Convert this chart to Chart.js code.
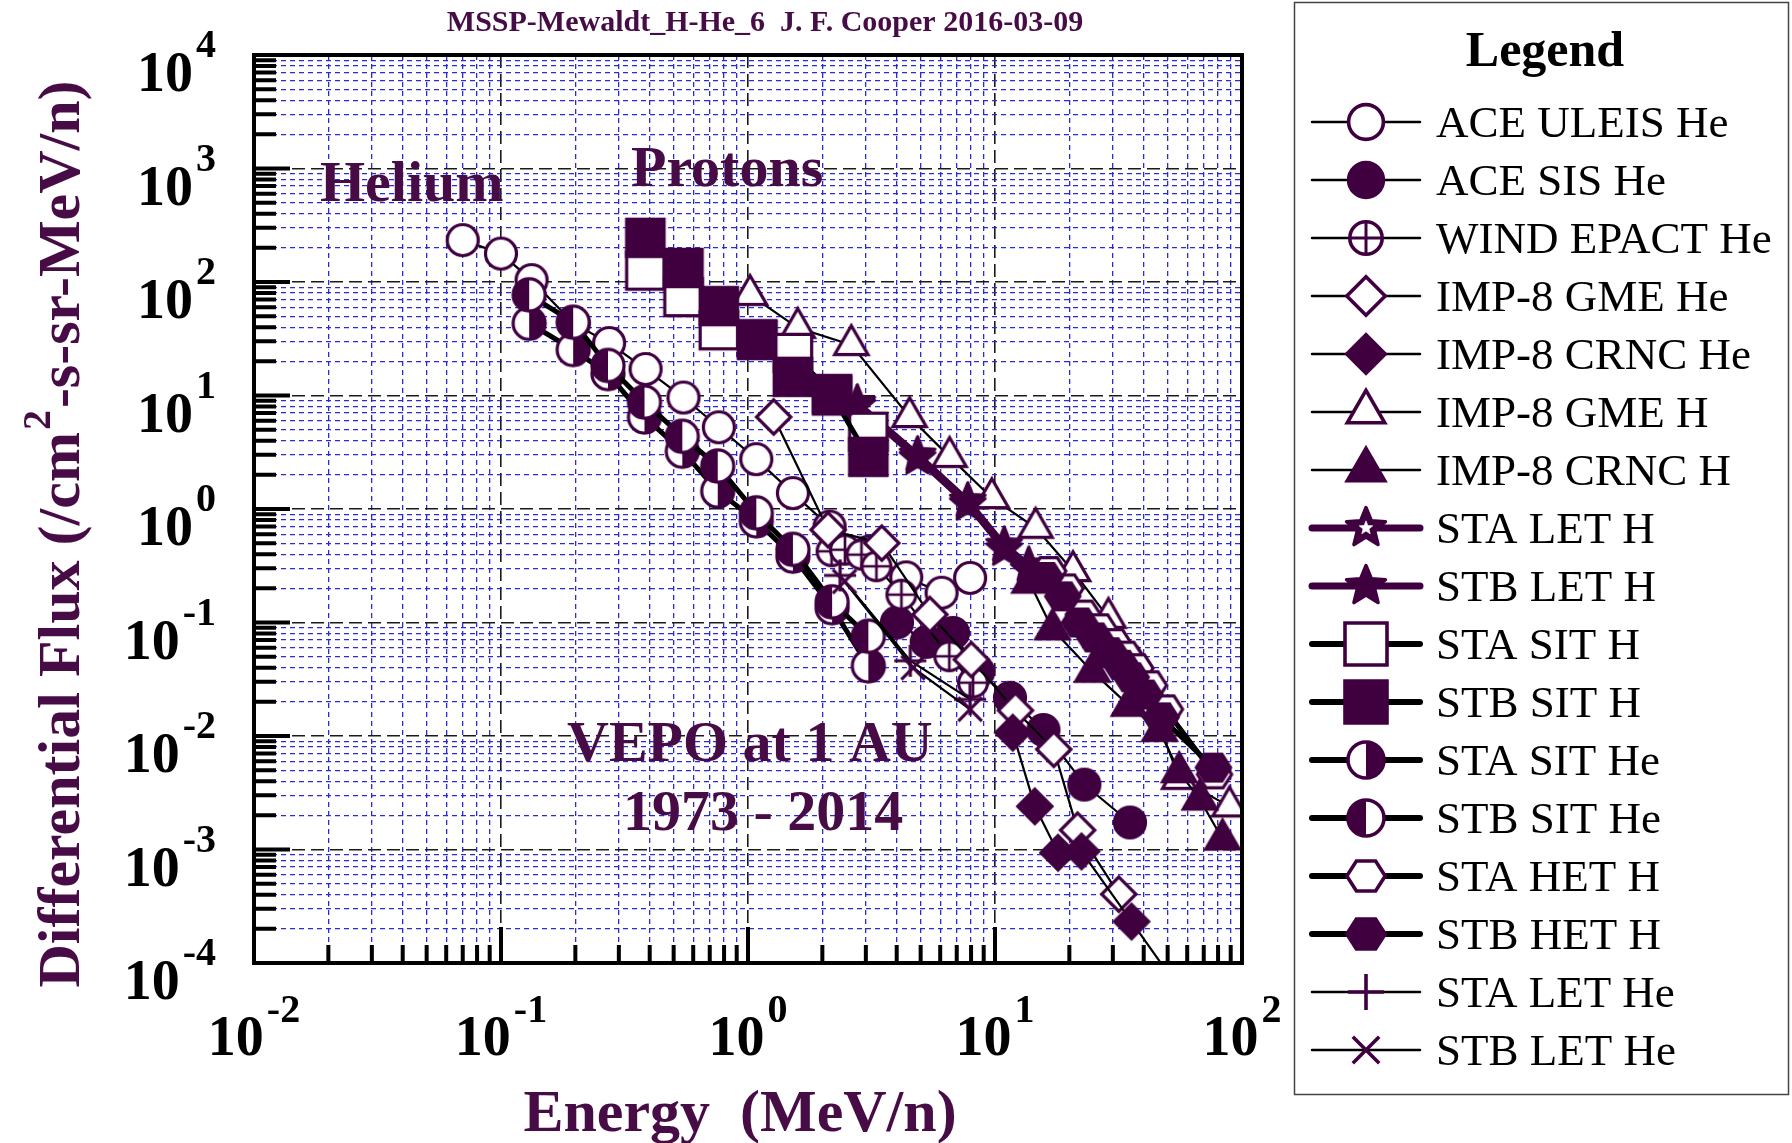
<!DOCTYPE html>
<html>
<head>
<meta charset="utf-8">
<script src="https://cdn.jsdelivr.net/npm/chart.js@4.4.1/dist/chart.umd.min.js"></script>
<style>
  html, body { margin: 0; padding: 0; background: #fff; }
  #wrap { width: 1792px; height: 1143px; }
</style>
</head>
<body>
<div id="wrap"><canvas id="flux" width="1792" height="1143"></canvas></div>
<script>
// energies (MeV/n) and fluxes
const uleisE = [0.070, 0.100, 0.133, 0.197, 0.274, 0.385, 0.548, 0.762, 1.08, 1.52, 2.14, 3.07, 4.37, 6.08, 7.93];
const uleisF = [234, 178, 104, 43, 29, 17.1, 9.6, 5.25, 2.75, 1.38, 0.70, 0.42, 0.25, 0.183, 0.247];

const sisE = [4.01, 5.29, 6.76, 8.55, 11.5, 15.7, 23.0, 35.2];
const sisF = [0.100, 0.0675, 0.081, 0.0369, 0.0217, 0.0113, 0.00373, 0.00173];

const epactE = [2.18, 2.47, 2.88, 3.31, 4.18, 6.53, 8.15];
const epactF = [0.424, 0.438, 0.396, 0.313, 0.176, 0.0504, 0.0295];

const gmeHeE = [1.27, 2.11, 3.48, 5.45, 8.02, 12.1, 17.3, 21.6, 31.7];
const gmeHeF = [6.47, 0.656, 0.501, 0.1175, 0.0471, 0.0168, 0.00764, 0.00148, 0.000404];

const crncHeE = [11.8, 14.5, 18.0, 22.4, 35.7, 56];
const crncHeF = [0.0107, 0.0024, 0.000937, 0.000962, 0.000232, 0.000058];

const gmeHE = [1.02, 1.59, 2.62, 4.51, 6.55, 9.71, 14.6, 20.7, 28.8, 38.0, 55.7, 89.0];
const gmeHF = [77.1, 39.5, 27.9, 6.47, 2.88, 1.25, 0.684, 0.284, 0.11, 0.04, 0.0042, 0.0024];

const crncHE = [13.8, 17.1, 24.8, 34.9, 46.4, 55.7, 67.5, 83.4];
const crncHF = [0.225, 0.0871, 0.0369, 0.0185, 0.0111, 0.00481, 0.00276, 0.00123];

const letHE = [2.77, 4.86, 7.76, 10.9, 13.7];
const staLetHF = [8.6, 3.0, 1.18, 0.48, 0.32];
const stbLetHF = [8.1, 2.8, 1.1, 0.44, 0.29];

const sitHE = [0.384, 0.548, 0.762, 1.09, 1.52, 2.19, 3.07];
const staSitHF = [126, 73.6, 37.6, 31.3, 23.7, 10.3, 4.79];
const stbSitHF = [245, 133, 61.3, 30.9, 14.6, 10.0, 2.88];

const sitHeE = [0.130, 0.196, 0.271, 0.381, 0.542, 0.754, 1.08, 1.52, 2.19, 3.07];
const staSitHeF = [43.3, 25.4, 15.6, 6.47, 3.23, 1.44, 0.786, 0.384, 0.135, 0.0415];
const stbSitHeF = [77.1, 44.2, 18.4, 8.75, 4.37, 2.39, 0.925, 0.441, 0.152, 0.0757];

const staHetHE = [16.5, 19.4, 22.8, 26.4, 30.3, 33.7, 37.2, 42.2, 49.0, 77.4];
const staHetHF = [0.284, 0.200, 0.1175, 0.0891, 0.0659, 0.0511, 0.0396, 0.0280, 0.0172, 0.00459];
const stbHetHE = [16.0, 18.8, 22.0, 25.3, 29.1, 32.4, 35.6, 40.4, 47.0, 76.6];
const stbHetHF = [0.252, 0.170, 0.100, 0.0739, 0.0547, 0.0424, 0.0329, 0.0232, 0.0146, 0.00527];

const staLetHeE = [2.36, 4.54, 7.93];
const staLetHeF = [0.26, 0.046, 0.021];
const stbLetHeE = [2.46, 4.66, 7.93];
const stbLetHeF = [0.23, 0.040, 0.0172];

const seriesNames = ['ACE ULEIS He', 'ACE SIS He', 'WIND EPACT He', 'IMP-8 GME He', 'IMP-8 CRNC He',
  'IMP-8 GME H', 'IMP-8 CRNC H', 'STA LET H', 'STB LET H', 'STA SIT H', 'STB SIT H',
  'STA SIT He', 'STB SIT He', 'STA HET H', 'STB HET H', 'STA LET He', 'STB LET He'];

// tick exponents
const xExps = [-2, -1, 0, 1, 2];
const yExps = [-4, -3, -2, -1, 0, 1, 2, 3, 4];

const PURPLE = '#400040';
const TEXT_PURPLE = '#470c45';
const SERIF = '"Liberation Serif", "Times New Roman", serif';

// marker pictures, used for the points and the legend
function marker(kind, scale) {
  const s = scale || 1;
  const c = document.createElement('canvas');
  c.width = c.height = Math.ceil(46 * s);
  const g = c.getContext('2d');
  const m = c.width / 2;
  g.translate(m, m);
  g.scale(s, s);
  g.lineWidth = 3;
  g.strokeStyle = PURPLE;
  const open = kind.endsWith('Open');
  g.fillStyle = open ? '#fff' : PURPLE;
  const poly = (pts) => {
    g.beginPath();
    pts.forEach((p, i) => i ? g.lineTo(p[0], p[1]) : g.moveTo(p[0], p[1]));
    g.closePath();
    g.fill();
    g.stroke();
  };
  if (kind.startsWith('circle')) {
    g.beginPath(); g.arc(0, 0, 14.5, 0, Math.PI * 2); g.fill(); g.stroke();
  } else if (kind === 'plusCircle') {
    g.fillStyle = '#fff';
    g.beginPath(); g.arc(0, 0, 13.5, 0, Math.PI * 2); g.fill(); g.stroke();
    g.lineWidth = 2.5;
    g.beginPath(); g.moveTo(-13.5, 0); g.lineTo(13.5, 0); g.moveTo(0, -13.5); g.lineTo(0, 13.5); g.stroke();
  } else if (kind.startsWith('diamond')) {
    poly([[0, -16], [16, 0], [0, 16], [-16, 0]]);
  } else if (kind.startsWith('tri')) {
    const r = 18;
    poly([[0, -r], [r * 0.866, r * 0.5], [-r * 0.866, r * 0.5]]);
  } else if (kind.startsWith('square')) {
    poly([[-17.5, -17.5], [17.5, -17.5], [17.5, 17.5], [-17.5, 17.5]]);
  } else if (kind.startsWith('hex')) {
    const pts = [];
    for (let k = 0; k < 6; k++) pts.push([16 * Math.cos(k * Math.PI / 3), 14.5 * Math.sin(k * Math.PI / 3)]);
    poly(pts);
  } else if (kind.startsWith('star')) {
    const star = (ro, ri) => {
      const pts = [];
      for (let k = 0; k < 10; k++) {
        const a = -Math.PI / 2 + k * Math.PI / 5;
        const r = k % 2 ? ri : ro;
        pts.push([r * Math.cos(a), r * Math.sin(a)]);
      }
      return pts;
    };
    g.fillStyle = PURPLE;
    g.lineJoin = 'round';
    poly(star(17, 7.5));
    if (open) {
      g.fillStyle = '#fff';
      g.lineWidth = 0.5;
      g.strokeStyle = '#fff';
      poly(star(6, 2.6));
    }
  } else if (kind === 'halfSTA' || kind === 'halfSTB') {
    const left = kind === 'halfSTA' ? '#fff' : PURPLE;
    const right = kind === 'halfSTA' ? PURPLE : '#fff';
    g.fillStyle = left;
    g.beginPath(); g.moveTo(0, 0); g.arc(0, 0, 15, Math.PI / 2, Math.PI * 1.5); g.closePath(); g.fill();
    g.fillStyle = right;
    g.beginPath(); g.moveTo(0, 0); g.arc(0, 0, 15, -Math.PI / 2, Math.PI / 2); g.closePath(); g.fill();
    g.beginPath(); g.arc(0, 0, 15, 0, Math.PI * 2); g.stroke();
  } else if (kind === 'plus') {
    g.beginPath(); g.moveTo(-15, 0); g.lineTo(15, 0); g.moveTo(0, -15); g.lineTo(0, 15); g.stroke();
  } else if (kind === 'cross') {
    g.beginPath(); g.moveTo(-11, -11); g.lineTo(11, 11); g.moveTo(11, -11); g.lineTo(-11, 11); g.stroke();
  }
  return c;
}

const markerKinds = ['circleOpen', 'circleFilled', 'plusCircle', 'diamondOpen', 'diamondFilled',
  'triOpen', 'triFilled', 'starOpen', 'starFilled', 'squareOpen', 'squareFilled',
  'halfSTA', 'halfSTB', 'hexOpen', 'hexFilled', 'plus', 'cross'];

const thin = { color: '#000', width: 2.2, legend: 2.5 };
const thickBlack = { color: '#000', width: 5, legend: 6 };
const thickPurple = { color: PURPLE, width: 6, legend: 7 };
const lineKinds = [thin, thin, thin, thin, thin, thin, thin, thickPurple, thickPurple,
  thickBlack, thickBlack, thickBlack, thickBlack, thickBlack, thickBlack, thin, thin];

const seriesData = [
  [uleisE, uleisF], [sisE, sisF], [epactE, epactF], [gmeHeE, gmeHeF], [crncHeE, crncHeF],
  [gmeHE, gmeHF], [crncHE, crncHF], [letHE, staLetHF], [letHE, stbLetHF],
  [sitHE, staSitHF], [sitHE, stbSitHF], [sitHeE, staSitHeF], [sitHeE, stbSitHeF],
  [staHetHE, staHetHF], [stbHetHE, stbHetHF], [staLetHeE, staLetHeF], [stbLetHeE, stbLetHeF]
];

const pointPics = markerKinds.map(k => marker(k, 1.07));
const legendPics = markerKinds.map(k => marker(k, 1.2));

const datasets = seriesData.map((s, i) => ({
  label: seriesNames[i],
  data: s[0].map((e, j) => ({ x: e, y: s[1][j] })),
  showLine: true,
  borderColor: lineKinds[i].color,
  borderWidth: lineKinds[i].width,
  pointStyle: pointPics[i],
  pointRadius: 12,
  pointHoverRadius: 12,
  tension: 0,
  fill: false,
  order: seriesData.length - i
}));

function logTicks(a, b) {
  const t = [];
  for (let e = a; e <= b; e++) {
    for (let m = 1; m <= 9; m++) {
      if (e === b && m > 1) break;
      t.push({ value: Number((m * Math.pow(10, e)).toPrecision(12)), major: m === 1 });
    }
  }
  return t;
}

const gridColor = (c) => (c.tick && c.tick.major) ? '#1a1a1a' : '#2b2bd0';
const gridWidth = (c) => (c.tick && c.tick.major) ? 1.6 : 1.3;
const gridDash = (c) => (c.tick && c.tick.major) ? [13, 6] : [5, 4];

function powerLabel(g, e, x, y, align, baseFont, expFont, rise) {
  const base = '10';
  const exp = e < 0 ? '-' + Math.abs(e) : String(e);
  g.font = baseFont;
  const wb = g.measureText(base).width;
  g.font = expFont;
  const we = g.measureText(exp).width;
  const total = wb + 3 + we;
  const start = align === 'center' ? x - total / 2 : x - total;
  g.textAlign = 'left';
  g.font = baseFont;
  g.fillText(base, start, y);
  g.font = expFont;
  g.fillText(exp, start + wb + 3, y - rise);
}

const decor = {
  id: 'decor',
  beforeDatasetsDraw(chart) {
    const g = chart.ctx;
    g.save();
    g.fillStyle = TEXT_PURPLE;
    g.font = 'bold 58px ' + SERIF;
    g.textAlign = 'left';
    g.fillText('Helium', 320, 201);
    g.fillText('Protons', 631, 186);
    g.fillText('VEPO at 1 AU', 567, 761);
    g.fillText('1973 - 2014', 623, 830);
    g.restore();
  },
  afterDatasetsDraw(chart) {
    const g = chart.ctx;
    const a = chart.chartArea;
    const xs = chart.scales.x;
    const ys = chart.scales.y;
    g.save();

    // frame and inward ticks
    g.strokeStyle = '#000';
    g.lineWidth = 4;
    g.strokeRect(a.left, a.top, a.right - a.left, a.bottom - a.top);
    g.lineWidth = 4;
    g.beginPath();
    xs.ticks.forEach(t => {
      const px = xs.getPixelForValue(t.value);
      if (px <= a.left + 1 || px >= a.right - 1) return;
      g.moveTo(px, a.bottom);
      g.lineTo(px, a.bottom - (t.major ? 36 : 18));
    });
    ys.ticks.forEach(t => {
      const py = ys.getPixelForValue(t.value);
      if (py >= a.bottom - 1 || py <= a.top - 1) return;
      g.moveTo(a.left, py);
      g.lineTo(a.left + (t.major ? 36 : 22), py);
    });
    g.stroke();

    // tick labels
    g.fillStyle = '#000';
    g.textBaseline = 'alphabetic';
    const bf = 'bold 56px ' + SERIF;
    const ef = 'bold 40px ' + SERIF;
    xExps.forEach(e => powerLabel(g, e, xs.getPixelForValue(Math.pow(10, e)), a.bottom + 92, 'center', bf, ef, 33));
    yExps.forEach(e => powerLabel(g, e, a.left - 38, ys.getPixelForValue(Math.pow(10, e)) + 36, 'right', bf, ef, 34));

    // titles
    g.fillStyle = TEXT_PURPLE;
    g.textAlign = 'center';
    g.font = 'bold 30px ' + SERIF;
    g.fillText('MSSP-Mewaldt_H-He_6  J. F. Cooper 2016-03-09', 765, 31);
    g.font = 'bold 60px ' + SERIF;
    g.fillText('Energy  (MeV/n)', 740, 1131);

    g.save();
    g.translate(79, 534);
    g.rotate(-Math.PI / 2);
    const p1 = 'Differential Flux (/cm', p2 = '2', p3 = '-s-sr-MeV/n)';
    const mf = 'bold 60px ' + SERIF, sf = 'bold 40px ' + SERIF;
    g.font = mf;
    const w1 = g.measureText(p1).width, w3 = g.measureText(p3).width;
    g.font = sf;
    const w2 = g.measureText(p2).width;
    let sx = -(w1 + w2 + w3 + 4) / 2;
    g.textAlign = 'left';
    g.font = mf; g.fillText(p1, sx, 0);
    g.font = sf; g.fillText(p2, sx + w1 + 2, -29);
    g.font = mf; g.fillText(p3, sx + w1 + w2 + 4, 0);
    g.restore();

    // legend box
    g.strokeStyle = '#444';
    g.lineWidth = 1.5;
    g.strokeRect(1294.5, 2.5, 494, 1092);
    g.fillStyle = '#000';
    g.textAlign = 'center';
    g.font = 'bold 50px ' + SERIF;
    g.fillText('Legend', 1545, 66);
    g.textAlign = 'left';
    g.font = '45px ' + SERIF;
    seriesNames.forEach((name, i) => {
      const cy = 122 + i * 58;
      g.strokeStyle = lineKinds[i].color;
      g.lineWidth = lineKinds[i].legend;
      g.lineCap = 'round';
      g.beginPath(); g.moveTo(1312, cy); g.lineTo(1420, cy); g.stroke();
      const pic = legendPics[i];
      g.drawImage(pic, 1366 - pic.width / 2, cy - pic.height / 2);
      g.fillStyle = '#000';
      g.fillText(name, 1436, cy + 15);
    });
    g.restore();
  }
};

new Chart(document.getElementById('flux'), {
  type: 'line',
  data: { datasets },
  options: {
    responsive: false,
    animation: false,
    devicePixelRatio: 1,
    layout: { padding: { left: 254, top: 55, right: 550, bottom: 180 } },
    plugins: { legend: { display: false }, tooltip: { enabled: false } },
    scales: {
      x: {
        type: 'logarithmic', min: 0.01, max: 100,
        afterBuildTicks: (s) => { s.ticks = logTicks(-2, 2); },
        afterFit: (s) => { s.height = 0; },
        ticks: { display: false },
        grid: { color: gridColor, lineWidth: gridWidth, drawTicks: false },
        border: { display: false, dash: gridDash }
      },
      y: {
        type: 'logarithmic', min: 1e-4, max: 1e4,
        afterBuildTicks: (s) => { s.ticks = logTicks(-4, 4); },
        afterFit: (s) => { s.width = 0; },
        ticks: { display: false },
        grid: { color: gridColor, lineWidth: gridWidth, drawTicks: false },
        border: { display: false, dash: gridDash }
      }
    }
  },
  plugins: [decor]
});
</script>
</body>
</html>
